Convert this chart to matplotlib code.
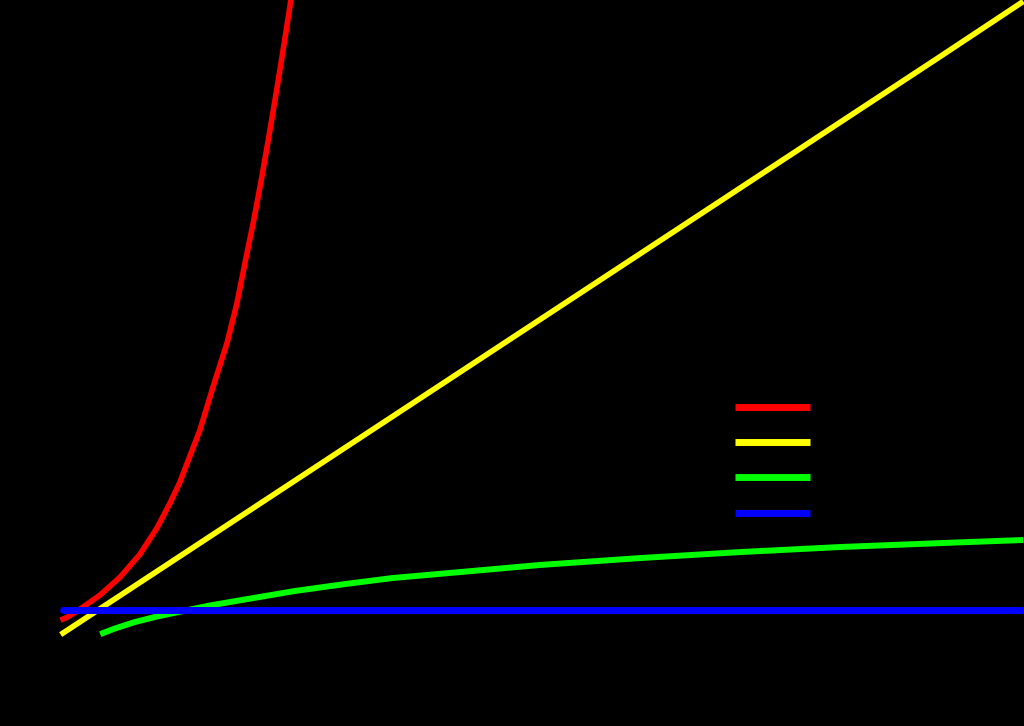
import matplotlib
matplotlib.use("Agg")
from matplotlib import pyplot as plt

# curves (n on the x axis, cost on the y axis)
red_n = [0, 0.114, 0.486, 1.057, 1.629, 2.2, 2.686, 3.057, 3.343, 3.571, 3.914,
         4.286, 4.686, 4.971, 5.2, 5.457, 5.686, 5.914, 6.143, 6.343, 6.486, 6.543]
red_y = [0.61, 0.68, 1.04, 1.65, 2.43, 3.43, 4.57, 5.65, 6.57, 7.48, 8.83,
         10.70, 12.61, 14.35, 16.09, 18.0, 19.87, 21.87, 23.96, 25.87, 27.26, 27.96]

yellow_n = [0, 5, 10, 15, 20, 25, 27.37]
yellow_y = [0, 5, 10, 15, 20, 25, 27.39]

green_n = [1.143, 1.486, 2.057, 2.629, 3.343, 4.2, 5.2, 6.629, 8.057, 9.4,
           13.629, 16.486, 19.343, 22.2, 25.057, 27.343]
green_y = [0, 0.20, 0.48, 0.70, 0.93, 1.20, 1.46, 1.83, 2.13, 2.39,
           2.96, 3.26, 3.52, 3.74, 3.91, 4.04]

blue_n = [0, 27.37]
blue_y = [1, 1]

labels = ["O(n²)", "O(n)", "O(log n)", "O(1)"]

fig = plt.figure(figsize=(10.24, 7.26), dpi=100, facecolor="black")
ax = fig.add_axes([0, 0, 1, 1])
ax.set_facecolor("black")

ax.plot(red_n, red_y, color="#ff0000", linewidth=4, label=labels[0])
ax.plot(yellow_n, yellow_y, color="#ffff00", linewidth=4, label=labels[1])
ax.plot(green_n, green_y, color="#00ff00", linewidth=4.3, label=labels[2])
ax.plot(blue_n, blue_y, color="#0000ff", linewidth=5, label=labels[3],
        solid_capstyle="round")

ax.set_xlim(-1.8, 27.457)
ax.set_ylim(-4.04, 27.52)
ax.set_axis_off()

leg = ax.legend(loc="center left", bbox_to_anchor=(0.718, 0.365), frameon=False,
                fontsize=14, labelcolor="black", handlelength=3.87,
                labelspacing=0.84, borderpad=0, borderaxespad=0)
for line in leg.get_lines():
    line.set_linewidth(5)
    line.set_solid_capstyle("butt")

fig.savefig("out.png", dpi=100, facecolor="black")
